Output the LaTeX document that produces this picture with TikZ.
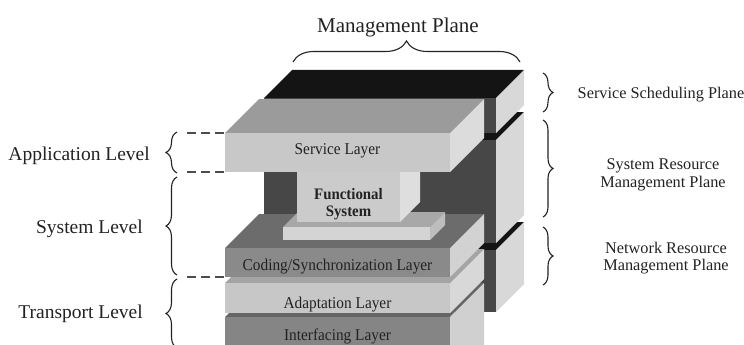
\documentclass[tikz,border=0pt]{standalone}
\usepackage{fontspec}
\setmainfont{Liberation Serif}
\newfontfamily\layerfont[FakeStretch=0.93]{Liberation Serif}
\usetikzlibrary{decorations.pathreplacing}

% greys of the stack
\definecolor{blk}{HTML}{141414}
\definecolor{wallFront}{HTML}{474747}
\definecolor{wallSide}{HTML}{D8D8D8}
\definecolor{svTop}{HTML}{9B9B9B}
\definecolor{svFront}{HTML}{C8C8C8}
\definecolor{svSide}{HTML}{DCDCDC}
\definecolor{cdTop}{HTML}{6C6C6C}
\definecolor{cdFront}{HTML}{8A8A8A}
\definecolor{cdSide}{HTML}{D2D2D2}
\definecolor{adTop}{HTML}{A4A4A4}
\definecolor{adFront}{HTML}{C7C7C7}
\definecolor{adSide}{HTML}{D8D8D8}
\definecolor{ifTop}{HTML}{666666}
\definecolor{ifFront}{HTML}{858585}
\definecolor{ifSide}{HTML}{D0D0D0}
\definecolor{fnFront}{HTML}{CBCBCB}
\definecolor{fnSide}{HTML}{DEDEDE}
\definecolor{plTop}{HTML}{A8A8A8}
\definecolor{plFront}{HTML}{D4D4D4}
\definecolor{plSide}{HTML}{BDBDBD}
\definecolor{ink}{HTML}{222222}

% oblique box: x-left, x-right, y-top, y-bottom, depth, top/front/side colours
\newcommand\cuboid[8]{%
  \fill[#6] (#1,#3) -- (#2,#3) -- (#2+#5,#3-#5) -- (#1+#5,#3-#5) -- cycle;
  \fill[#7] (#1,#3) rectangle (#2,#4);
  \fill[#8] (#2,#3) -- (#2+#5,#3-#5) -- (#2+#5,#4-#5) -- (#2,#4) -- cycle;
}

\begin{document}
\begin{tikzpicture}[x=1pt,y=-1pt,
  brc/.style={decorate,decoration={brace,amplitude=#1},draw=ink,line width=1.1pt},
  guide/.style={draw=black!70,line width=1.3pt,dash pattern=on 9pt off 5pt},
  lay/.style={text=ink,inner sep=0pt,anchor=base,font=\layerfont\fontsize{16.5}{19}\selectfont},
  lvl/.style={text=ink,inner sep=0pt,anchor=base east,font=\fontsize{19.5}{22}\selectfont},
  pln/.style={text=ink,inner sep=0pt,align=center,font=\fontsize{16.3}{17.5}\selectfont},
]
\useasboundingbox (0,0) rectangle (744,345);
\clip (0,0) rectangle (744,345);

% management plane: three stacked blocks at the back
\cuboid{264}{496}{250}{312}{28}{blk}{wallFront}{wallSide}
\cuboid{264}{496}{140}{243}{28}{blk}{wallFront}{wallSide}
\cuboid{264}{496}{98}{133}{28}{blk}{wallFront}{wallSide}

% protocol layers, bottom up
\cuboid{225}{450}{317}{380}{34}{ifTop}{ifFront}{ifSide}
\cuboid{225}{450}{283}{313}{34}{adTop}{adFront}{adSide}
\cuboid{225}{450}{248}{277}{34}{cdTop}{cdFront}{cdSide}

% functional system on its base plate
\cuboid{283}{430}{227}{240}{15}{plTop}{plFront}{plSide}
\cuboid{297}{400}{150}{222}{20}{fnFront}{fnFront}{fnSide}

% service layer on top
\cuboid{225}{450}{133}{172}{34}{svTop}{svFront}{svSide}

% layer names
\node[lay] (svc) at (337.5,154) {Service Layer};
\node[lay] (cod) at (337.5,270) {Coding/Synchronization Layer};
\node[lay] (ada) at (337.5,308) {Adaptation Layer};
\node[lay] (itf) at (337.5,340) {Interfacing Layer};
\node[text=ink,inner sep=0pt,anchor=base,font=\bfseries\layerfont\fontsize{16}{17}\selectfont] (fun1) at (348.5,199) {Functional};
\node[text=ink,inner sep=0pt,anchor=base,font=\bfseries\layerfont\fontsize{16}{17}\selectfont] (fun2) at (348.5,216) {System};

% level guides on the left
\coordinate (svcTL) at (225,133);
\coordinate (svcBL) at (225,172);
\coordinate (codBL) at (225,277);
\coordinate (gA) at (187,133);
\coordinate (gB) at (187,172);
\coordinate (gC) at (187,277);
\draw[guide] (gA) -- (svcTL);
\draw[guide] (gB) -- (svcBL);
\draw[guide] (gC) -- (codBL);

% level braces
\coordinate (appB) at (177,173);
\coordinate (appT) at (177,132);
\coordinate (sysB) at (177,275);
\coordinate (sysT) at (177,177);
\coordinate (trnB) at (177,348);
\coordinate (trnT) at (177,279);
\draw[brc=11] (appB) -- (appT);
\draw[brc=11] (sysB) -- (sysT);
\draw[brc=11] (trnB) -- (trnT);
\node[lvl] (app) at (150,160) {Application Level};
\node[lvl] (sys) at (143,233) {System Level};
\node[lvl] (trn) at (143,318) {Transport Level};

% management plane brace and title
\coordinate (mpL) at (293,62);
\coordinate (mpR) at (520,62);
\draw[brc=21] (mpL) -- (mpR);
\node[text=ink,inner sep=0pt,anchor=base,font=\fontsize{21}{24}\selectfont] (mp) at (398,33) {Management Plane};

% plane braces on the right
\coordinate (ssT) at (543,73);
\coordinate (ssB) at (543,112);
\coordinate (srT) at (543,120);
\coordinate (srB) at (543,217);
\coordinate (nrT) at (543,227);
\coordinate (nrB) at (543,285);
\draw[brc=10] (ssT) -- (ssB);
\draw[brc=10] (srT) -- (srB);
\draw[brc=10] (nrT) -- (nrB);
\node[pln,anchor=base] (ss) at (661,98) {Service Scheduling Plane};
\node[pln] (sr) at (663,175) {System Resource\\Management Plane};
\node[pln] (nr) at (666,258) {Network Resource\\Management Plane};
\end{tikzpicture}
\end{document}
